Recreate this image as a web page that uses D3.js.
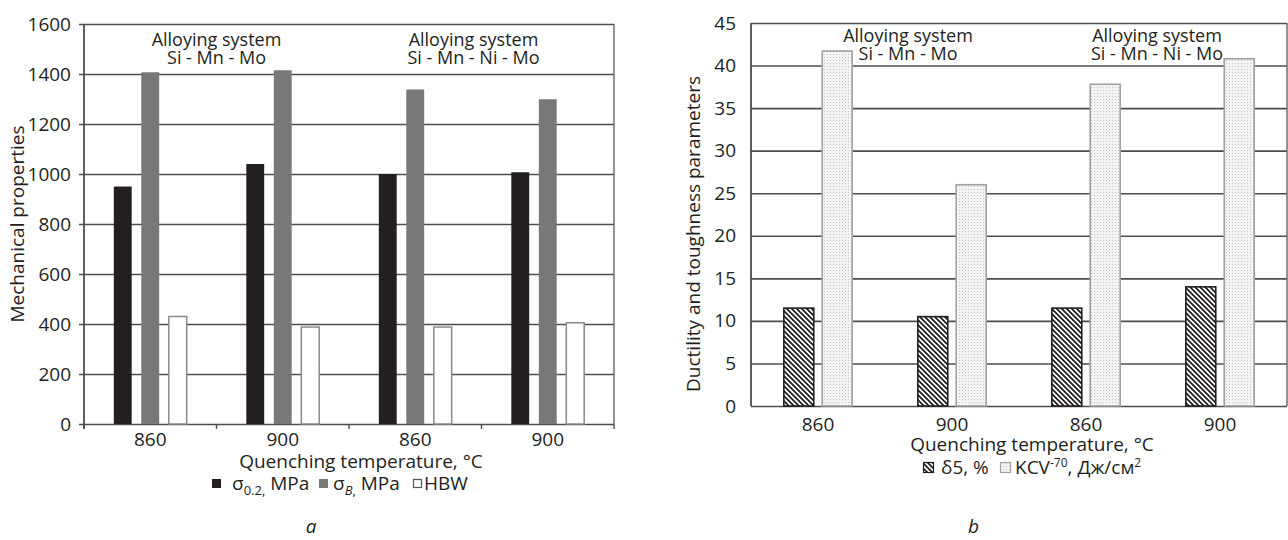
<!DOCTYPE html>
<html>
<head>
<meta charset="utf-8">
<script src="https://cdn.jsdelivr.net/npm/d3@7"></script>
<style>
body { margin: 0; background: #fff; }
svg text { font-family: "Open Sans", sans-serif; fill: #231f20; }
</style>
</head>
<body>
<svg id="chart" width="1288" height="540"></svg>
<script>
// quenching temperatures, two alloying systems x two temperatures
var categories = ["860", "900", "860", "900"];
var systemName = "Alloying system";
var systems = ["Si - Mn - Mo", "Si - Mn - Ni - Mo"];

// panel a
var sigma02 = [950, 1040, 1000, 1007];
var sigmaB = [1407, 1415, 1338, 1299];
var hbw = [430, 388, 388, 405];
var leftTicks = [0, 200, 400, 600, 800, 1000, 1200, 1400, 1600];

// panel b
var delta5 = [11.5, 10.5, 11.5, 14];
var kcv = [41.7, 26, 37.8, 40.8];
var rightTicks = [0, 5, 10, 15, 20, 25, 30, 35, 40, 45];

var svg = d3.select("#chart");
var defs = svg.append("defs");

var hatch = defs.append("pattern")
    .attr("id", "hatch")
    .attr("patternUnits", "userSpaceOnUse")
    .attr("width", 5).attr("height", 5);
hatch.append("rect").attr("width", 5).attr("height", 5).attr("fill", "#fff");
hatch.append("path")
    .attr("d", "M0,0L5,5M-1,4L1,6M4,-1L6,1")
    .attr("stroke", "#231f20")
    .attr("stroke-width", 1.8);

var dots = defs.append("pattern")
    .attr("id", "dots")
    .attr("patternUnits", "userSpaceOnUse")
    .attr("width", 3).attr("height", 3);
dots.append("rect").attr("width", 3).attr("height", 3).attr("fill", "#f4f4f4");
dots.append("rect").attr("x", 1).attr("y", 1).attr("width", 1).attr("height", 1).attr("fill", "#c4c4c4");

function drawFrame(g, x0, y, width, height, ticks, outTick, pad, labelPad) {
    var grid = g.append("g")
        .attr("class", "y axis")
        .call(d3.axisLeft(y).tickValues(ticks).tickSize(-width).tickPadding(pad)
            .tickFormat(d3.format("d")));
    grid.select(".domain").remove();
    grid.selectAll("line")
        .attr("x1", -outTick)
        .attr("stroke", "#4d4d4d")
        .attr("stroke-width", 1.6);
    grid.selectAll("text")
        .style("font-size", "19px")
        .style("font-family", "Open Sans");

    g.append("line")
        .attr("x1", 0).attr("x2", 0)
        .attr("y1", 0).attr("y2", height + outTick)
        .attr("stroke", "#4d4d4d").attr("stroke-width", 1.8);
    g.append("line")
        .attr("x1", width).attr("x2", width)
        .attr("y1", 0).attr("y2", height)
        .attr("stroke", "#666").attr("stroke-width", 1.4);

    var xg = g.append("g")
        .attr("class", "x axis")
        .attr("transform", "translate(0," + height + ")")
        .call(d3.axisBottom(x0).tickSize(0).tickPadding(labelPad)
            .tickFormat(function(i) { return categories[i]; }));
    xg.select(".domain").remove();
    xg.selectAll("text")
        .style("font-size", "19px")
        .style("font-family", "Open Sans");
}

function drawNotes(g, xs, y1) {
    systems.forEach(function(s, i) {
        var t = g.append("text")
            .attr("text-anchor", "middle")
            .style("font-size", "18px");
        t.append("tspan").attr("x", xs[i]).attr("y", y1).text(systemName);
        t.append("tspan").attr("x", xs[i]).attr("y", y1 + 18).text(s);
    });
}

function drawLeft() {
    var margin = {top: 24, left: 84},
        width = 530,
        height = 400,
        g = svg.append("g")
        .attr("transform", "translate(" + margin.left + "," + margin.top + ")");

    var x0 = d3.scaleBand().domain(d3.range(categories.length)).range([0, width]);
    var y = d3.scaleLinear().domain([0, 1600]).range([height, 0]);

    var series = [
        {key: "s02", values: sigma02, fill: "#231f20", stroke: "none"},
        {key: "sB", values: sigmaB, fill: "#787878", stroke: "none"},
        {key: "hbw", values: hbw, fill: "#fff", stroke: "#8a8a8a"}
    ];
    var groupW = x0.bandwidth() * 0.55;
    var x1 = d3.scaleBand()
        .domain(series.map(function(d) { return d.key; }))
        .range([(x0.bandwidth() - groupW) / 2, (x0.bandwidth() + groupW) / 2])
        .paddingInner(0.35);

    drawFrame(g, x0, y, width, height, leftTicks, 5, 13, 9);

    // small ticks between the categories
    g.selectAll(".btick")
        .data(d3.range(categories.length + 1))
        .enter().append("line")
        .attr("x1", function(i) { return i * x0.step(); })
        .attr("x2", function(i) { return i * x0.step(); })
        .attr("y1", height).attr("y2", height + 5)
        .attr("stroke", "#4d4d4d").attr("stroke-width", 1.4);

    series.forEach(function(s) {
        g.selectAll(".bar-" + s.key)
            .data(s.values)
            .enter().append("rect")
            .attr("class", "bar-" + s.key)
            .attr("x", function(d, i) { return x0(i) + x1(s.key); })
            .attr("width", x1.bandwidth())
            .attr("y", function(d) { return y(d); })
            .attr("height", function(d) { return height - y(d); })
            .attr("fill", s.fill)
            .attr("stroke", s.stroke)
            .attr("stroke-width", 1.5);
    });

    drawNotes(g, [x0.step(), x0.step() * 3 - 8], 22);

    svg.append("text")
        .attr("transform", "translate(24," + (margin.top + height / 2) + ") rotate(-90)")
        .attr("text-anchor", "middle")
        .style("font-size", "19px")
        .text("Mechanical properties");

    svg.append("text")
        .attr("x", margin.left + width / 2 + 12)
        .attr("y", 468)
        .attr("text-anchor", "middle")
        .style("font-size", "19px")
        .text("Quenching temperature, °C");

    var lg = svg.append("g");
    lg.append("rect").attr("x", 212).attr("y", 479).attr("width", 9).attr("height", 9).attr("fill", "#231f20");
    var t1 = lg.append("text").attr("x", 232).attr("y", 490).style("font-size", "19px");
    t1.append("tspan").text("σ");
    t1.append("tspan").attr("dy", 5).style("font-size", "13px").text("0.2,");
    t1.append("tspan").attr("dy", -5).text(" MPa");

    lg.append("rect").attr("x", 319).attr("y", 479).attr("width", 9).attr("height", 9).attr("fill", "#787878");
    var t2 = lg.append("text").attr("x", 333).attr("y", 490).style("font-size", "19px");
    t2.append("tspan").text("σ");
    t2.append("tspan").attr("dy", 5).style("font-size", "13px").style("font-style", "italic").text("B");
    t2.append("tspan").style("font-size", "13px").text(",");
    t2.append("tspan").attr("dy", -5).text(" MPa");

    lg.append("rect").attr("x", 413.5).attr("y", 479.5).attr("width", 8).attr("height", 8)
        .attr("fill", "#fff").attr("stroke", "#555").attr("stroke-width", 1.2);
    lg.append("text").attr("x", 424).attr("y", 490).style("font-size", "19px").text("HBW");

    svg.append("text")
        .attr("x", 311).attr("y", 533)
        .attr("text-anchor", "middle")
        .style("font-size", "19px").style("font-style", "italic")
        .text("a");
}

function drawRight() {
    var margin = {top: 23, left: 751},
        width = 536,
        height = 383,
        g = svg.append("g")
        .attr("transform", "translate(" + margin.left + "," + margin.top + ")");

    var x0 = d3.scaleBand().domain(d3.range(categories.length)).range([0, width]);
    var y = d3.scaleLinear().domain([0, 45]).range([height, 0]);

    var series = [
        {key: "d5", values: delta5, fill: "url(#hatch)", stroke: "#231f20"},
        {key: "kcv", values: kcv, fill: "url(#dots)", stroke: "#a0a0a0"}
    ];
    var groupW = x0.bandwidth() * 0.51;
    var x1 = d3.scaleBand()
        .domain(series.map(function(d) { return d.key; }))
        .range([(x0.bandwidth() - groupW) / 2, (x0.bandwidth() + groupW) / 2])
        .paddingInner(0.22);

    drawFrame(g, x0, y, width, height, rightTicks, 0, 15, 12);

    series.forEach(function(s) {
        g.selectAll(".bar-" + s.key)
            .data(s.values)
            .enter().append("rect")
            .attr("class", "bar-" + s.key)
            .attr("x", function(d, i) { return x0(i) + x1(s.key); })
            .attr("width", x1.bandwidth())
            .attr("y", function(d) { return y(d); })
            .attr("height", function(d) { return height - y(d); })
            .attr("fill", s.fill)
            .attr("stroke", s.stroke)
            .attr("stroke-width", 1.6);
    });

    drawNotes(g, [x0.step() + 23, x0.step() * 3 + 4], 19);

    svg.append("text")
        .attr("transform", "translate(700,234) rotate(-90)")
        .attr("text-anchor", "middle")
        .style("font-size", "19px")
        .text("Ductility and toughness parameters");

    svg.append("text")
        .attr("x", margin.left + width / 2 + 13)
        .attr("y", 451)
        .attr("text-anchor", "middle")
        .style("font-size", "19px")
        .text("Quenching temperature, °C");

    var lg = svg.append("g");
    lg.append("rect").attr("x", 923.5).attr("y", 462.5).attr("width", 10).attr("height", 10)
        .attr("fill", "url(#hatch)").attr("stroke", "#231f20").attr("stroke-width", 1.2);
    lg.append("text").attr("x", 941).attr("y", 474).style("font-size", "19px").text("δ5, %");

    lg.append("rect").attr("x", 1000.5).attr("y", 462.5).attr("width", 10).attr("height", 10)
        .attr("fill", "url(#dots)").attr("stroke", "#a0a0a0").attr("stroke-width", 1.2);
    var t = lg.append("text").attr("x", 1015).attr("y", 474).style("font-size", "19px");
    t.append("tspan").text("KCV");
    t.append("tspan").attr("dy", -7).style("font-size", "12px").text("-70");
    t.append("tspan").attr("dy", 7).text(", Дж/см");
    t.append("tspan").attr("dy", -7).style("font-size", "12px").text("2");

    svg.append("text")
        .attr("x", 973.5).attr("y", 533)
        .attr("text-anchor", "middle")
        .style("font-size", "19px").style("font-style", "italic")
        .text("b");
}

drawLeft();
drawRight();
</script>
</body>
</html>
